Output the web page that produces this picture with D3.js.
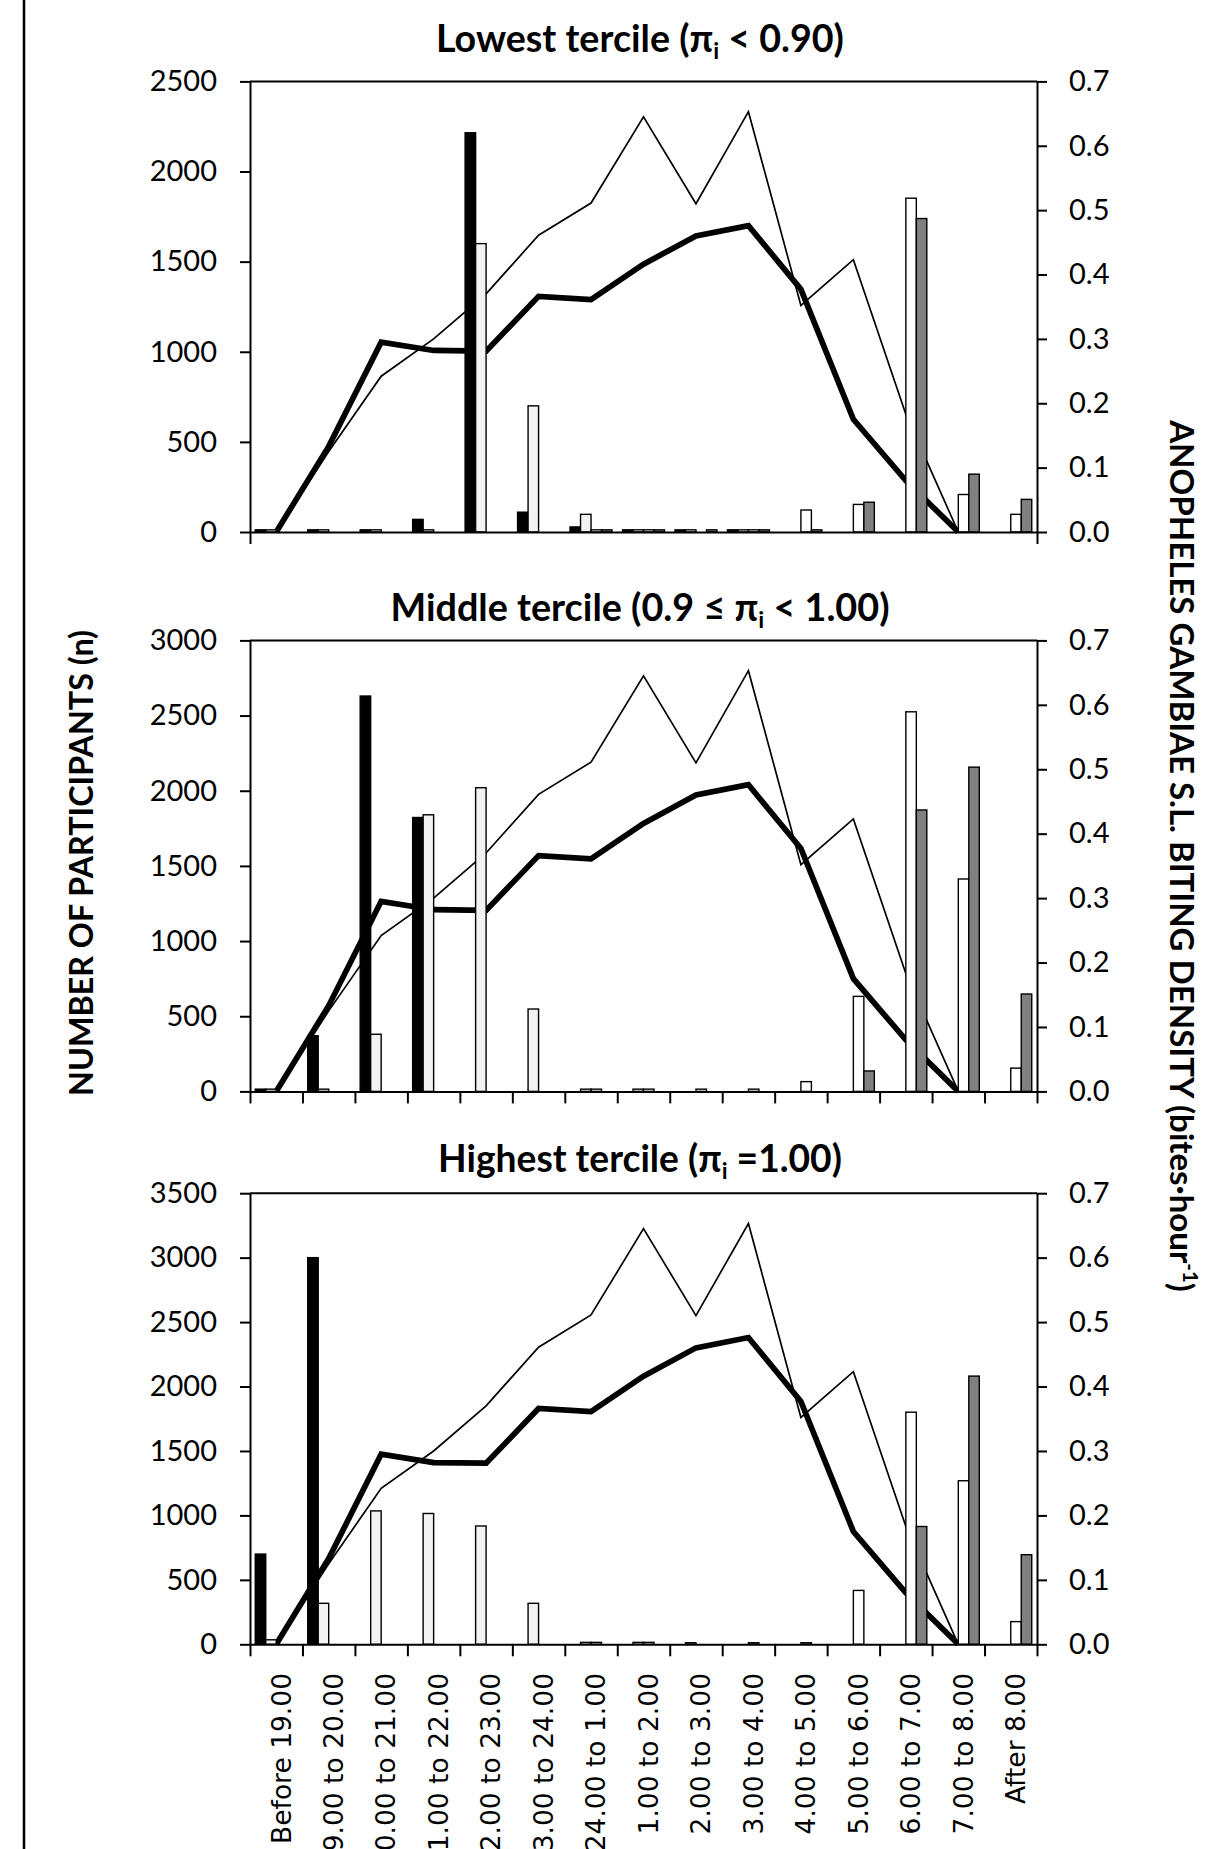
<!DOCTYPE html>
<html>
<head>
<meta charset="utf-8">
<script src="https://cdn.jsdelivr.net/npm/d3@7"></script>
<style>
  body { margin: 0; background: #fff; }
  svg { display: block; }
</style>
</head>
<body>
<script>
// ---------------- DATA ----------------
const categories = ["Before 19.00","19.00 to 20.00","20.00 to 21.00","21.00 to 22.00","22.00 to 23.00",
  "23.00 to 24.00","24.00 to 1.00","1.00 to 2.00","2.00 to 3.00","3.00 to 4.00","4.00 to 5.00",
  "5.00 to 6.00","6.00 to 7.00","7.00 to 8.00","After 8.00"];
const seriesNames = ["series1","series2","series3","series4"];

// biting density (right axis), identical in the three panels
const densityThin  = [0, 0.125, 0.242, 0.300, 0.370, 0.461, 0.511, 0.645, 0.510, 0.653, 0.352, 0.423, 0.183, 0];
const densityThick = [0, 0.133, 0.295, 0.282, 0.281, 0.366, 0.361, 0.416, 0.460, 0.476, 0.377, 0.175, 0.080, 0];

// Lowest tercile (left axis, number of participants)
const lowestS1 = [12, 12, 12, 70, 2215, 110, 28, 12, 12, 12, 0, 0, 0, 0, 0];
const lowestS2 = [12, 12, 12, 12, 1600, 700, 98, 12, 12, 12, 0, 0, 0, 0, 0];
const lowestS3 = [0, 0, 0, 0, 0, 0, 12, 12, 0, 12, 122, 153, 1852, 208, 98];
const lowestS4 = [0, 0, 0, 0, 0, 0, 12, 12, 12, 12, 12, 165, 1739, 321, 181];

// Middle tercile
const middleS1 = [15, 370, 2630, 1822, 0, 0, 0, 0, 0, 0, 0, 0, 0, 0, 0];
const middleS2 = [15, 15, 380, 1840, 2020, 548, 15, 15, 0, 0, 0, 0, 0, 0, 0];
const middleS3 = [0, 0, 0, 0, 0, 0, 15, 15, 15, 15, 65, 632, 2525, 1413, 155];
const middleS4 = [0, 0, 0, 0, 0, 0, 0, 0, 0, 0, 0, 136, 1872, 2157, 648];

// Highest tercile
const highestS1 = [700, 3000, 0, 0, 0, 0, 0, 0, 0, 0, 0, 0, 0, 0, 0];
const highestS2 = [35, 318, 1035, 1015, 918, 318, 15, 15, 12, 0, 0, 0, 0, 0, 0];
const highestS3 = [0, 0, 0, 0, 0, 0, 15, 15, 0, 12, 12, 418, 1801, 1269, 176];
const highestS4 = [0, 0, 0, 0, 0, 0, 0, 0, 0, 0, 0, 0, 914, 2081, 695];

const leftTicksLowest  = [0, 500, 1000, 1500, 2000, 2500];
const leftTicksMiddle  = [0, 500, 1000, 1500, 2000, 2500, 3000];
const leftTicksHighest = [0, 500, 1000, 1500, 2000, 2500, 3000, 3500];
const rightTicks = [0, 0.1, 0.2, 0.3, 0.4, 0.5, 0.6, 0.7];

const titleLowest  = [["Lowest tercile (π"], ["i", "sub"], [" < 0.90)"]];
const titleMiddle  = [["Middle tercile (0.9 ≤ π"], ["i", "sub"], [" < 1.00)"]];
const titleHighest = [["Highest tercile (π"], ["i", "sub"], [" =1.00)"]];
const leftAxisTitle  = "NUMBER OF PARTICIPANTS (n)";
const rightAxisTitle = [["ANOPHELES GAMBIAE S.L. BITING DENSITY (bites·hour"], ["-1", "sup"], [")"]];

// ---------------- STYLE / LAYOUT ----------------
const W = 1231, H = 1849;
const X0 = 250, X1 = 1037;
const seriesFill = ["#000000", "#f2f2f2", "#ffffff", "#808080"];
const FONT = "Lato, 'Open Sans', 'DejaVu Sans', sans-serif";

const panels = [
  { title: titleLowest,  titleY: 52,   titleW: 408, top: 81.4,  bottom: 532,    ticks: leftTicksLowest,
    bars: [lowestS1, lowestS2, lowestS3, lowestS4], xTicks: [0, 15] },
  { title: titleMiddle,  titleY: 620.7, titleW: 499, top: 640.4, bottom: 1091.4, ticks: leftTicksMiddle,
    bars: [middleS1, middleS2, middleS3, middleS4], xTicks: d3.range(16) },
  { title: titleHighest, titleY: 1171.8, titleW: 404, top: 1193.2, bottom: 1644.3, ticks: leftTicksHighest,
    bars: [highestS1, highestS2, highestS3, highestS4], xTicks: d3.range(16) }
];

const svg = d3.select("body").append("svg")
  .attr("width", W).attr("height", H)
  .attr("font-family", FONT);

svg.append("rect").attr("width", W).attr("height", H).attr("fill", "#fff");
svg.append("line").attr("x1", 24).attr("x2", 24).attr("y1", 0).attr("y2", H)
  .attr("stroke", "#000").attr("stroke-width", 2.5);

const xBand = d3.scaleBand().domain(categories).range([X0, X1]).padding(0);
const xLin = d3.scaleLinear().domain([0, categories.length]).range([X0, X1]);
const inner = d3.scaleBand().domain(seriesNames).range([0, xBand.bandwidth()]).paddingInner(0).paddingOuter(0.5);
const bw = xBand.bandwidth();

function addRichText(textSel, parts) {
  parts.forEach(p => {
    const t = textSel.append("tspan").text(p[0]);
    if (p[1] === "sub") {
      t.attr("font-size", "0.62em").attr("dy", "0.32em");
    } else if (p[1] === "sup") {
      t.attr("font-size", "0.62em").attr("dy", "-0.62em");
    }
  });
  const tsp = textSel.selectAll("tspan").nodes();
  parts.forEach((p, i) => {
    if (i > 0 && !p[1] && parts[i - 1][1]) {
      const prev = parts[i - 1][1];
      const shift = prev === "sub" ? -0.32 * 0.62 : 0.62 * 0.62;
      d3.select(tsp[i]).attr("dy", shift + "em");
    }
  });
}

function fitWidth(sel, target) {
  const w = sel.node().getComputedTextLength();
  const fs = parseFloat(sel.attr("font-size"));
  if (w > 0) sel.attr("font-size", (fs * target / w).toFixed(2));
}

function styleAxis(g, fontSize) {
  g.select(".domain").attr("stroke", "#000").attr("stroke-width", 2);
  g.selectAll(".tick line").attr("stroke", "#000").attr("stroke-width", 2);
  g.selectAll(".tick text").attr("fill", "#000").attr("font-size", fontSize).attr("font-family", FONT);
  g.attr("font-family", FONT);
}

panels.forEach(p => {
  const yL = d3.scaleLinear().domain([0, p.ticks[p.ticks.length - 1]]).range([p.bottom, p.top]);
  const yR = d3.scaleLinear().domain([0, 0.7]).range([p.bottom, p.top]);
  const g = svg.append("g");

  // lines (drawn behind the bars)
  const line = d3.line()
    .x((d, i) => xBand(categories[i]) + bw / 2)
    .y(d => yR(d));
  g.append("path").datum(densityThin).attr("d", line)
    .attr("fill", "none").attr("stroke", "#000").attr("stroke-width", 1.7).attr("stroke-linejoin", "miter");
  g.append("path").datum(densityThick).attr("d", line)
    .attr("fill", "none").attr("stroke", "#000").attr("stroke-width", 5.7).attr("stroke-linejoin", "miter");

  // bars
  p.bars.forEach((vals, s) => {
    g.append("g").selectAll("rect")
      .data(vals.map((v, i) => ({ v, c: categories[i] })).filter(d => d.v > 0))
      .join("rect")
      .attr("x", d => xBand(d.c) + inner(seriesNames[s]))
      .attr("width", inner.bandwidth())
      .attr("y", d => yL(d.v))
      .attr("height", d => yL(0) - yL(d.v))
      .attr("fill", seriesFill[s])
      .attr("stroke", "#000")
      .attr("stroke-width", 1.4);
  });

  // top border
  g.append("line").attr("x1", X0).attr("x2", X1).attr("y1", p.top).attr("y2", p.top)
    .attr("stroke", "#000").attr("stroke-width", 2);

  // left axis
  const gl = g.append("g").attr("transform", `translate(${X0},0)`)
    .call(d3.axisLeft(yL).tickValues(p.ticks).tickSize(10).tickSizeOuter(0).tickPadding(23).tickFormat(d3.format("d")));
  styleAxis(gl, 29);

  // right axis
  const gr = g.append("g").attr("transform", `translate(${X1},0)`)
    .call(d3.axisRight(yR).tickValues(rightTicks).tickSize(10).tickSizeOuter(0).tickPadding(22).tickFormat(d3.format(".1f")));
  styleAxis(gr, 29);

  // bottom axis (ticks at category boundaries)
  const gb = g.append("g").attr("transform", `translate(0,${p.bottom})`)
    .call(d3.axisBottom(xLin).tickValues(p.xTicks).tickSize(12).tickSizeOuter(0).tickFormat(""));
  styleAxis(gb, 0);

  // title
  const t = g.append("text").attr("x", 640).attr("y", p.titleY)
    .attr("text-anchor", "middle").attr("font-weight", "bold").attr("font-size", 32).attr("fill", "#000");
  addRichText(t, p.title);
  fitWidth(t, p.titleW);
});

// category labels under the last panel
const gx = svg.append("g").attr("transform", `translate(0,1673)`)
  .call(d3.axisBottom(xBand).tickSize(0).tickPadding(0));
gx.select(".domain").remove();
gx.selectAll(".tick text")
  .attr("transform", "rotate(-90)")
  .attr("x", 0).attr("y", 5).attr("dy", "0.35em")
  .attr("text-anchor", "end")
  .attr("font-family", "'DejaVu Sans', Verdana, sans-serif")
  .attr("font-size", 26.5)
  .attr("fill", "#000");

// axis titles
const lt = svg.append("text").attr("transform", "translate(82,863) rotate(-90)")
  .attr("text-anchor", "middle").attr("dy", "0.35em").attr("font-weight", "bold")
  .attr("font-size", 32).attr("fill", "#000").text(leftAxisTitle);
fitWidth(lt, 466);

const rt = svg.append("text").attr("transform", "translate(1182,856) rotate(90)")
  .attr("text-anchor", "middle").attr("dy", "0.35em").attr("font-weight", "bold")
  .attr("font-size", 30).attr("fill", "#000");
addRichText(rt, rightAxisTitle);
fitWidth(rt, 872);
</script>
</body>
</html>
